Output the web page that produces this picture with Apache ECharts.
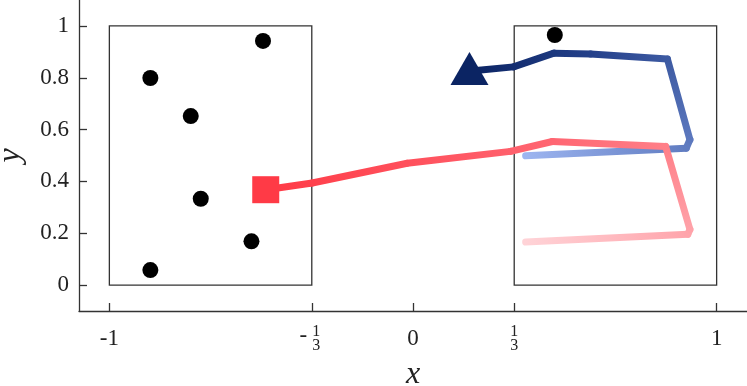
<!DOCTYPE html>
<html>
<head>
<meta charset="utf-8">
<script src="https://cdn.jsdelivr.net/npm/echarts@6/dist/echarts.min.js"></script>
<style>html,body{margin:0;padding:0;background:#fff}#c{width:747px;height:386px}</style>
</head>
<body>
<div id="c"></div>
<script>
// ---- data ----
const xTickValues = [-1, -1/3, 0, 1/3, 1];
const xTickLabels = ['-1', '-1/3', '0', '1/3', '1'];
const yTickValues = [0, 0.2, 0.4, 0.6, 0.8, 1];
const yTickLabels = ['0', '0.2', '0.4', '0.6', '0.8', '1'];

const boxX0 = [-1, 1/3];
const boxX1 = [-1/3, 1];
const boxY0 = [0, 0];
const boxY1 = [1, 1];

const dotsX = [-0.494, -0.865, -0.732, -0.699, -0.532, -0.865, 0.467];
const dotsY = [0.942, 0.799, 0.652, 0.333, 0.169, 0.058, 0.965];

const redX = [0.371, 0.905, 0.912, 0.832, 0.459, 0.321, -0.019, -0.332, -0.485];
const redY = [0.166, 0.196, 0.215, 0.535, 0.554, 0.516, 0.470, 0.394, 0.368];

const blueX = [0.371, 0.900, 0.912, 0.838, 0.585, 0.464, 0.331, 0.190];
const blueY = [0.499, 0.528, 0.561, 0.872, 0.892, 0.895, 0.842, 0.826];

const redEnd = [-0.485, 0.368];
const blueEnd = [0.186, 0.836];

// ---- styles ----
const FONT = "'Liberation Serif', 'Times New Roman', serif";
const redStops = [[0, '#ffd3d7'], [0.25, '#ffa3aa'], [0.39, '#ff7e87'], [0.56, '#ff6672'], [1, '#ff3a46']];
const blueStops = [[0, '#9db5f0'], [0.36, '#5f7bc0'], [0.56, '#3d5aa2'], [0.73, '#24408a'], [1, '#0b2463']];

function hex2rgb(h) { return [parseInt(h.slice(1,3),16), parseInt(h.slice(3,5),16), parseInt(h.slice(5,7),16)]; }
function colorAt(stops, t) {
  for (let i = 1; i < stops.length; i++) {
    if (t <= stops[i][0] || i === stops.length - 1) {
      const a = stops[i-1], b = stops[i];
      const f = Math.max(0, Math.min(1, (t - a[0]) / (b[0] - a[0])));
      const ca = hex2rgb(a[1]), cb = hex2rgb(b[1]);
      const c = ca.map((v, k) => Math.round(v + (cb[k] - v) * f));
      return 'rgb(' + c.join(',') + ')';
    }
  }
}
function segments(xs, ys) {
  const len = [0];
  for (let i = 1; i < xs.length; i++) len.push(len[i-1] + Math.hypot(xs[i]-xs[i-1], (ys[i]-ys[i-1]) * 0.856));
  const tot = len[len.length - 1];
  const out = [];
  for (let i = 1; i < xs.length; i++) out.push([xs[i-1], ys[i-1], xs[i], ys[i], len[i-1]/tot, len[i]/tot]);
  return out;
}
function pathRenderer(stops) {
  return function (params, api) {
    const p1 = api.coord([api.value(0), api.value(1)]);
    const p2 = api.coord([api.value(2), api.value(3)]);
    const c1 = colorAt(stops, api.value(4)), c2 = colorAt(stops, api.value(5));
    return {
      type: 'line',
      shape: { x1: p1[0], y1: p1[1], x2: p2[0], y2: p2[1] },
      style: {
        stroke: new echarts.graphic.LinearGradient(p1[0], p1[1], p2[0], p2[1], [{offset: 0, color: c1}, {offset: 1, color: c2}], true),
        lineWidth: 7, lineCap: 'round', lineJoin: 'round'
      }
    };
  };
}
function findLabel(v) {
  const i = xTickValues.findIndex(t => Math.abs(t - v) < 1e-6);
  return i >= 0 ? xTickLabels[i] : '';
}

const chart = echarts.init(document.getElementById('c'), null, { renderer: 'canvas' });
const axisCommon = {
  type: 'value', min: -1.1, max: 1.1,
  splitLine: { show: false }
};
const option = {
  animation: false,
  grid: { left: 79, right: 0, top: 0, bottom: 75, containLabel: false, outerBoundsMode: 'none' },
  xAxis: [
    Object.assign({}, axisCommon, {
      position: 'bottom',
      axisLine: { show: true, onZero: false, lineStyle: { color: '#333', width: 1.3 } },
      axisTick: { show: true, inside: true, length: 8, customValues: xTickValues, lineStyle: { color: '#333', width: 1.3 } },
      axisLabel: {
        show: true, customValues: xTickValues, margin: 14, color: '#222', fontFamily: FONT,
        formatter: function (v) {
          const s = findLabel(v);
          if (s.indexOf('/') >= 0) {
            const neg = s[0] === '-';
            const parts = s.replace('-', '').split('/');
            return neg ? '{na|' + parts[0] + '}\n{nb|' + parts[1] + '}'
                       : '{a|' + parts[0] + '}\n{b|' + parts[1] + '}';
          }
          return '{i|' + s + '}';
        },
        rich: {
          i: { fontSize: 23, lineHeight: 28, fontFamily: FONT, color: '#222' },
          a: { fontSize: 16, lineHeight: 14, fontFamily: FONT, color: '#222' },
          b: { fontSize: 16, lineHeight: 14, fontFamily: FONT, color: '#222' },
          na: { fontSize: 16, lineHeight: 14, padding: [0, 0, 0, 9], fontFamily: FONT, color: '#222' },
          nb: { fontSize: 16, lineHeight: 14, padding: [0, 0, 0, 9], fontFamily: FONT, color: '#222' }
        }
      },
      name: 'x', nameLocation: 'middle', nameGap: 42,
      nameTextStyle: { fontFamily: FONT, fontStyle: 'italic', fontSize: 32, color: '#222' }
    }),
    Object.assign({}, axisCommon, {
      position: 'bottom', offset: 0,
      axisLine: { show: false },
      axisTick: { show: false },
      axisLabel: {
        show: true, customValues: xTickValues.filter(v => findLabel(v).indexOf('-') === 0 && findLabel(v).indexOf('/') > 0),
        margin: 11, color: '#222', fontFamily: FONT, fontSize: 23, lineHeight: 28,
        padding: [0, 17, 0, 0],
        formatter: function () { return '-'; }
      }
    })
  ],
  yAxis: {
    type: 'value', min: -0.1, max: 1.1,
    splitLine: { show: false },
    axisLine: { show: true, onZero: false, lineStyle: { color: '#333', width: 1.3 } },
    axisTick: { show: true, inside: true, length: 8, customValues: yTickValues, lineStyle: { color: '#333', width: 1.3 } },
    axisLabel: {
      show: true, customValues: yTickValues, margin: 10, color: '#222', fontFamily: FONT, fontSize: 23,
      formatter: function (v) {
        const i = yTickValues.findIndex(t => Math.abs(t - v) < 1e-6);
        return i >= 0 ? yTickLabels[i] : '';
      }
    },
    name: 'y', nameLocation: 'middle', nameGap: 52,
    nameTextStyle: { fontFamily: FONT, fontStyle: 'italic', fontSize: 32, color: '#222' }
  },
  series: [
    {
      type: 'custom', z: 1, silent: true,
      data: boxX0.map((x, i) => [x, boxY0[i], boxX1[i], boxY1[i]]),
      encode: { x: [0, 2], y: [1, 3] },
      renderItem: function (params, api) {
        const p1 = api.coord([api.value(0), api.value(3)]);
        const p2 = api.coord([api.value(2), api.value(1)]);
        return { type: 'rect', shape: { x: p1[0], y: p1[1], width: p2[0] - p1[0], height: p2[1] - p1[1] },
                 style: { fill: 'none', stroke: '#333', lineWidth: 1.3 } };
      }
    },
    {
      type: 'custom', z: 2, silent: true,
      data: segments(blueX, blueY), encode: { x: [0, 2], y: [1, 3] },
      renderItem: pathRenderer(blueStops)
    },
    {
      type: 'custom', z: 3, silent: true,
      data: segments(redX, redY), encode: { x: [0, 2], y: [1, 3] },
      renderItem: pathRenderer(redStops)
    },
    {
      type: 'scatter', z: 4, symbol: 'circle', symbolSize: 16,
      itemStyle: { color: '#000', opacity: 1 },
      data: dotsX.map((x, i) => [x, dotsY[i]])
    },
    {
      type: 'scatter', z: 5, symbol: 'rect', symbolSize: 27,
      itemStyle: { color: '#ff3a46', opacity: 1 },
      data: [redEnd]
    },
    {
      type: 'scatter', z: 5, symbol: 'triangle', symbolSize: [38, 33],
      itemStyle: { color: '#0b2463', opacity: 1 },
      data: [blueEnd]
    }
  ]
};
chart.setOption(option);
</script>
</body>
</html>
